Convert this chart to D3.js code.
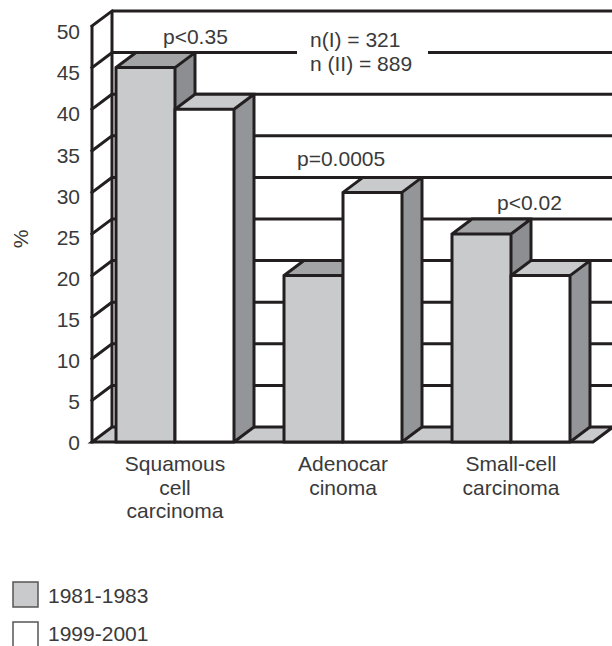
<!DOCTYPE html>
<html>
<head>
<meta charset="utf-8">
<script src="https://cdn.jsdelivr.net/npm/d3@7"></script>
<style>
  html, body { margin: 0; padding: 0; background: #fff; }
  svg { display: block; }
  text { font-family: "Liberation Sans", Arial, sans-serif; fill: #3a3a3a; }
</style>
</head>
<body>
<svg id="chart" width="612" height="646"></svg>
<script>
// ---- data ----
const categories = ["Squamous cell carcinoma", "Adenocar cinoma", "Small-cell carcinoma"];
const categoryLines = [["Squamous", "cell", "carcinoma"], ["Adenocar", "cinoma"], ["Small-cell", "carcinoma"]];
const seriesNames = ["1981-1983", "1999-2001"];
const series1981 = [45, 20, 25];
const series1999 = [40, 30, 20];
const yTicks = [0, 5, 10, 15, 20, 25, 30, 35, 40, 45, 50];
const pLabels = ["p<0.35", "p=0.0005", "p<0.02"];
const nLabels = ["n(I) = 321", "n (II) = 889"];

// ---- layout ----
const svg = d3.select("#chart");
const W = 612;
const FS = 21;
const DX = 20, DY = -15;          // depth offset
const INK = "#231f20";
const SW = 3;
const colors = {
  front: ["#c9cacc", "#ffffff"],
  top:   ["#a3a4a6", "#c9cacc"],
  side:  ["#8d8e91", "#939598"]
};
const floorColor = "#c9cacc";

const y = d3.scaleLinear().domain([0, 50]).range([442, 26]);
const yLabel = d3.scaleLinear().domain([0, 50]).range([443, 32]);
const axisX = 92;

const x = d3.scaleBand().domain(categories).range([116, 570]).paddingInner(50 / 168).paddingOuter(0);
const xs = d3.scaleBand().domain([0, 1]).range([0, x.bandwidth()]);

const g = svg.append("g");

// back wall grid lines
g.selectAll("line.grid").data(yTicks.filter(d => d > 0)).join("line")
  .attr("x1", axisX + DX).attr("x2", W + 5)
  .attr("y1", d => y(d) + DY).attr("y2", d => y(d) + DY)
  .attr("stroke", INK).attr("stroke-width", SW);

// floor
const floorRight = 593;
g.append("polygon")
  .attr("points", [[axisX, y(0)], [floorRight, y(0)], [floorRight + DX, y(0) + DY], [axisX + DX, y(0) + DY]].map(p => p.join(",")).join(" "))
  .attr("fill", floorColor).attr("stroke", INK).attr("stroke-width", SW).attr("stroke-linejoin", "miter");

// left wall
g.append("line").attr("x1", axisX).attr("x2", axisX).attr("y1", y(0) + 1.5).attr("y2", y(50))
  .attr("stroke", INK).attr("stroke-width", SW);
g.append("line").attr("x1", axisX + DX).attr("x2", axisX + DX).attr("y1", y(0) + DY).attr("y2", y(50) + DY)
  .attr("stroke", INK).attr("stroke-width", SW);
g.selectAll("line.diag").data(yTicks.filter(d => d > 0)).join("line")
  .attr("x1", axisX).attr("x2", axisX + DX)
  .attr("y1", d => y(d)).attr("y2", d => y(d) + DY)
  .attr("stroke", INK).attr("stroke-width", SW).attr("stroke-linecap", "square");

// bars
const pts = a => a.map(p => p.join(",")).join(" ");
categories.forEach((c, i) => {
  [series1981[i], series1999[i]].forEach((v, s) => {
    const x0 = x(c) + xs(s), x1 = x0 + xs.bandwidth();
    const yt = y(v), yb = y(0);
    const bg = g.append("g");
    bg.append("polygon").attr("points", pts([[x1, yt], [x1 + DX, yt + DY], [x1 + DX, yb + DY], [x1, yb]]))
      .attr("fill", colors.side[s]);
    bg.append("polygon").attr("points", pts([[x0, yt], [x0 + DX, yt + DY], [x1 + DX, yt + DY], [x1, yt]]))
      .attr("fill", colors.top[s]);
    bg.append("rect").attr("x", x0).attr("y", yt).attr("width", x1 - x0).attr("height", yb - yt)
      .attr("fill", colors.front[s]);
    bg.append("path")
      .attr("d", `M${x0},${yb}V${yt}L${x0 + DX},${yt + DY}H${x1 + DX}V${yb + DY}L${x1},${yb}H${x0}Z M${x0},${yt}H${x1}V${yb} M${x1},${yt}L${x1 + DX},${yt + DY}`)
      .attr("fill", "none").attr("stroke", INK).attr("stroke-width", SW).attr("stroke-linejoin", "miter");
  });
});

// y axis labels
const axis = d3.axisLeft(yLabel).tickValues(yTicks).tickSize(0).tickPadding(0);
const ag = svg.append("g").attr("transform", "translate(80,0)").call(axis);
ag.select(".domain").remove();
ag.selectAll("text").attr("font-family", "Liberation Sans, Arial, sans-serif").attr("font-size", FS).attr("fill", "#3a3a3a");

svg.append("text").attr("transform", "translate(28,239) rotate(-90)")
  .attr("text-anchor", "middle").attr("font-size", FS).text("%");

// category labels
categories.forEach((c, i) => {
  const cx = x(c) + x.bandwidth() / 2;
  svg.append("text").attr("text-anchor", "middle").attr("font-size", FS)
    .selectAll("tspan").data(categoryLines[i]).join("tspan")
    .attr("x", cx).attr("y", (d, k) => 471 + k * 23.5).text(d => d);
});

// p labels
const pPos = [[163, 44], [297, 166], [497, 210]];
pLabels.forEach((t, i) => {
  svg.append("text").attr("x", pPos[i][0]).attr("y", pPos[i][1]).attr("font-size", FS).text(t);
});

// n labels with white background
svg.append("rect").attr("x", 297).attr("y", 45).attr("width", 131).attr("height", 14).attr("fill", "#fff");
nLabels.forEach((t, i) => {
  svg.append("text").attr("x", 310).attr("y", 47 + i * 24).attr("font-size", FS).text(t);
});

// legend
seriesNames.forEach((t, i) => {
  const ly = 582 + i * 40;
  svg.append("rect").attr("x", 13).attr("y", ly).attr("width", 25).attr("height", 25)
    .attr("fill", colors.front[i]).attr("stroke", "#555").attr("stroke-width", 1.5);
  svg.append("text").attr("x", 48).attr("y", 603 + i * 38).attr("font-size", FS).text(t);
});
</script>
</body>
</html>
